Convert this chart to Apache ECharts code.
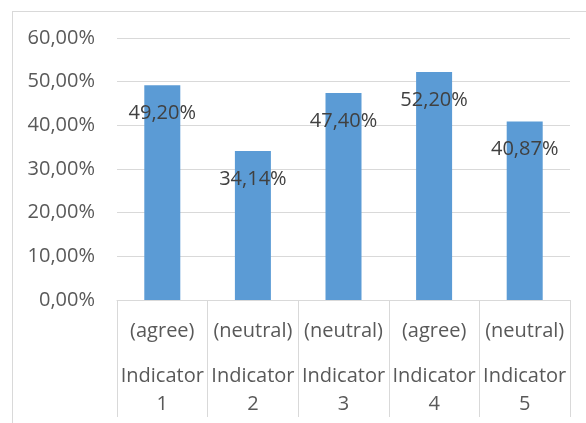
<!DOCTYPE html>
<html>
<head>
<meta charset="utf-8">
<script src="https://cdn.jsdelivr.net/npm/echarts@6/dist/echarts.min.js"></script>
<style>
html,body{margin:0;padding:0;background:#fff;}
#chart{position:absolute;left:0;top:0;width:586px;height:423px;}
#frame{position:absolute;left:12px;top:11px;width:600px;height:430px;border-left:1px solid #d9d9d9;border-top:1px solid #d9d9d9;pointer-events:none;}
</style>
</head>
<body>
<div id="frame"></div>
<div id="chart"></div>
<script>
var responses = ['(agree)', '(neutral)', '(neutral)', '(agree)', '(neutral)'];
var indicators = ['Indicator 1', 'Indicator 2', 'Indicator 3', 'Indicator 4', 'Indicator 5'];
var values = [0.4920, 0.3414, 0.4740, 0.5220, 0.4087];
var yTicks = [0, 0.1, 0.2, 0.3, 0.4, 0.5, 0.6];

function pct(v) {
  return (v * 100).toFixed(2).replace('.', ',') + '%';
}

var categories = responses.map(function (r, i) {
  var parts = indicators[i].split(' ');
  return '{a|' + r + '}\n{b|' + parts[0] + '}\n{b|' + parts[1] + '}';
});

var chart = echarts.init(document.getElementById('chart'), null, {renderer: 'canvas'});
var font = 'Open Sans';
var fs = 20;
chart.setOption({
  animation: false,
  grid: {left: 117, right: 16, top: 38, bottom: 123},
  xAxis: {
    type: 'category',
    data: categories,
    axisLine: {lineStyle: {color: '#d9d9d9', width: 1}},
    axisTick: {show: true, interval: 0, length: 117, lineStyle: {color: '#d9d9d9'}},
    axisLabel: {
      interval: 0,
      margin: 0,
      color: '#595959',
      fontFamily: font,
      fontSize: fs,
      rich: {
        a: {fontFamily: font, fontSize: fs, color: '#595959', lineHeight: 62},
        b: {fontFamily: font, fontSize: fs, color: '#595959', lineHeight: 28}
      }
    }
  },
  yAxis: {
    type: 'value',
    min: yTicks[0],
    max: yTicks[yTicks.length - 1],
    interval: 0.1,
    axisLine: {show: false},
    axisTick: {show: false},
    splitLine: {lineStyle: {color: '#d9d9d9', width: 1}},
    axisLabel: {
      margin: 22,
      color: '#595959',
      fontFamily: font,
      fontSize: fs,
      formatter: function (v) { return pct(v); }
    }
  },
  series: [{
    type: 'bar',
    data: values,
    barWidth: 36,
    itemStyle: {color: '#5b9bd5'},
    label: {
      show: true,
      position: 'insideTop',
      distance: 18,
      color: '#404040',
      fontFamily: font,
      fontSize: fs,
      formatter: function (p) { return pct(p.value); }
    }
  }]
});
</script>
</body>
</html>
